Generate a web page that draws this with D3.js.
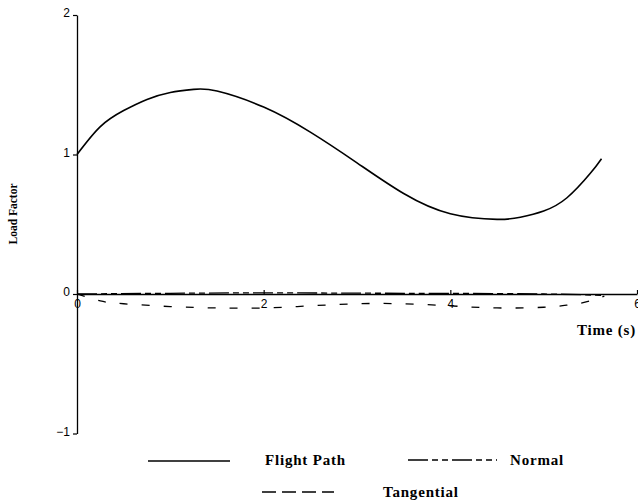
<!DOCTYPE html>
<html>
<head>
<meta charset="utf-8">
<script src="https://cdn.jsdelivr.net/npm/d3@7"></script>
<style>
  html, body { margin: 0; padding: 0; background: #fff; }
  svg { display: block; }
</style>
</head>
<body>
<svg id="chart" width="638" height="502"></svg>
<script>
// Load factor components along a manoeuvre, time in seconds
const flightTime = [0, 0.25, 0.5, 0.75, 1.0, 1.25, 1.5, 2.0, 2.5, 3.0, 3.5, 4.0, 4.5, 4.75, 5.0, 5.25, 5.5, 5.62];
const flightPath = [1.00, 1.20, 1.315, 1.395, 1.445, 1.467, 1.455, 1.34, 1.16, 0.94, 0.72, 0.575, 0.535, 0.55, 0.595, 0.69, 0.865, 0.97];

const normalTime = [0, 1.0, 2.0, 3.0, 4.0, 5.0, 5.65];
const normal     = [0, 0.005, 0.008, 0.006, 0.004, 0.0, -0.01];

const tangentialTime = [0, 0.25, 0.5, 1.0, 1.5, 2.0, 2.5, 3.0, 3.5, 4.0, 4.5, 5.0, 5.25, 5.4, 5.55, 5.65];
const tangential     = [0, -0.05, -0.07, -0.09, -0.10, -0.10, -0.085, -0.07, -0.07, -0.085, -0.10, -0.095, -0.08, -0.065, -0.04, -0.015];

const xTicks = [0, 2, 4, 6];
const yTicks = [-1, 0, 1, 2];
const seriesNames = ["Flight Path", "Normal", "Tangential"];
const xTitle = "Time (s)";
const yTitle = "Load Factor";

const svg = d3.select("#chart");
const serif = "'Liberation Serif', 'Times New Roman', serif";
const sans = "'Liberation Sans', Arial, sans-serif";

const x = d3.scaleLinear().domain([0, 6]).range([77, 637]);
const y = d3.scaleLinear().domain([-1, 2]).range([433.5, 15]);

// y axis with short ticks to the left
const yAxis = svg.append("g")
  .attr("transform", `translate(${x(0)},0)`)
  .call(d3.axisLeft(y).tickValues(yTicks).tickSize(4).tickSizeOuter(0).tickPadding(3)
    .tickFormat(d => d < 0 ? "\u2212" + Math.abs(d) : String(d)));

// x axis along load factor zero, ticks pointing up
const xAxis = svg.append("g")
  .attr("transform", `translate(0,${y(0)})`)
  .call(d3.axisBottom(x).tickValues(xTicks).tickSizeInner(-4).tickSizeOuter(0).tickPadding(5)
    .tickFormat(d => String(d)));

[yAxis, xAxis].forEach(g => {
  g.selectAll("path.domain").attr("stroke", "#000").attr("stroke-width", 1.3);
  g.selectAll(".tick line").attr("stroke", "#000").attr("stroke-width", 1.2);
  g.selectAll(".tick text").attr("fill", "#000").style("font-family", sans).style("font-size", "12px");
});
yAxis.selectAll(".tick text").attr("dy", "0.15em");

// series lines
const series = [
  { name: seriesNames[0], t: flightTime, v: flightPath, dash: null },
  { name: seriesNames[1], t: normalTime, v: normal, dash: "20,4,6,4,6,4" },
  { name: seriesNames[2], t: tangentialTime, v: tangential, dash: "8,14" }
];

const line = d3.line()
  .x(d => x(d[0]))
  .y(d => y(d[1]))
  .curve(d3.curveNatural);

svg.append("g").selectAll("path.series")
  .data(series)
  .join("path")
  .attr("class", "series")
  .attr("d", s => line(s.t.map((t, i) => [t, s.v[i]])))
  .attr("fill", "none")
  .attr("stroke", "#000")
  .attr("stroke-width", s => s.dash ? 1.3 : 1.6)
  .attr("stroke-dasharray", s => s.dash);

// axis titles
svg.append("text")
  .attr("x", 636).attr("y", 335)
  .attr("text-anchor", "end")
  .style("font-family", serif).style("font-weight", "bold")
  .style("font-size", "15px").style("letter-spacing", "0.8px")
  .text(xTitle);

svg.append("text")
  .attr("transform", "translate(17,214) rotate(-90)")
  .attr("text-anchor", "middle")
  .style("font-family", serif).style("font-weight", "bold")
  .style("font-size", "11.5px")
  .text(yTitle);

// legend
const legendItems = [
  { s: series[0], x1: 148, x2: 230, ly: 461, tx: 265, ty: 465 },
  { s: series[1], x1: 408, x2: 497, ly: 460, tx: 510, ty: 465 },
  { s: series[2], x1: 262, x2: 334, ly: 492, tx: 383, ty: 497 }
];
const legendDash = ["", "20,4,6,4,6,4", "14,6"];

const lg = svg.append("g").selectAll("g").data(legendItems).join("g");
lg.append("line")
  .attr("x1", d => d.x1).attr("x2", d => d.x2)
  .attr("y1", d => d.ly).attr("y2", d => d.ly)
  .attr("stroke", "#000").attr("stroke-width", 1.5)
  .attr("stroke-dasharray", (d, i) => legendDash[i] || null);
lg.append("text")
  .attr("x", d => d.tx).attr("y", d => d.ty)
  .style("font-family", serif).style("font-weight", "bold")
  .style("font-size", "15px").style("letter-spacing", "0.8px")
  .text(d => d.s.name);
</script>
</body>
</html>
